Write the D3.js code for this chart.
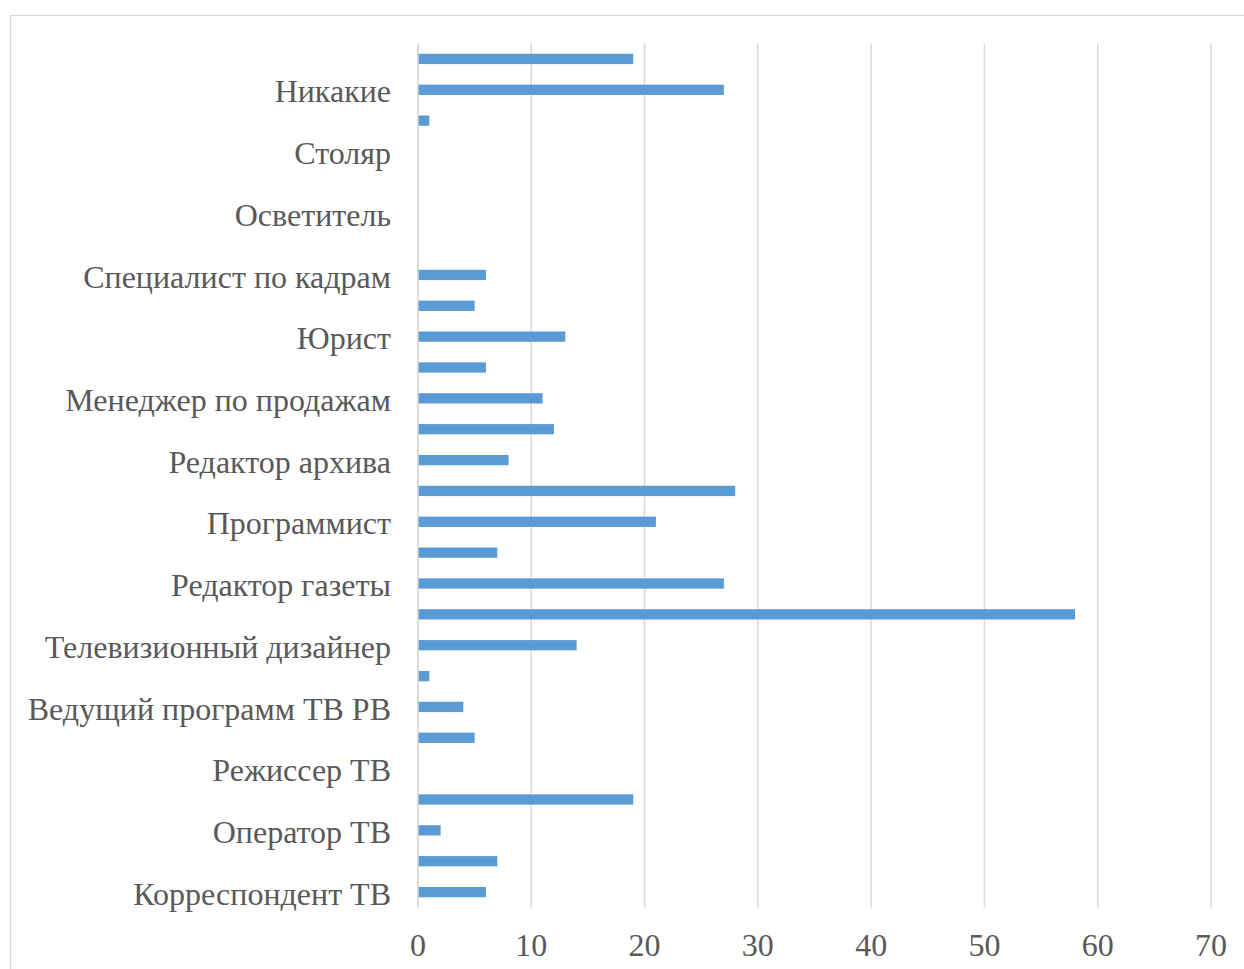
<!DOCTYPE html>
<html><head><meta charset="utf-8">
<script src="https://cdn.jsdelivr.net/npm/d3@7"></script>
<style>body{margin:0;background:#fff;}svg{display:block;}</style>
</head><body>
<script>
// categories from bottom to top; labels visible only every other one (as in the original)
const categories = [
  "Корреспондент ТВ","Редактор ТВ","Оператор ТВ","Звукорежиссер","Режиссер ТВ","Монтажер",
  "Ведущий программ ТВ РВ","Продюсер","Телевизионный дизайнер","Журналист",
  "Редактор газеты","Фотограф","Программист","Дизайнер","Редактор архива","Маркетолог",
  "Менеджер по продажам","Бухгалтер","Юрист","Секретарь","Специалист по кадрам","Водитель",
  "Осветитель","Костюмер","Столяр","Другое","Никакие","Все"
];
const values = [6,7,2,19,0,5,4,1,14,58,27,7,21,28,8,12,11,6,13,5,6,0,0,0,0,1,27,19];
const xTicks = [0,10,20,30,40,50,60,70];

const W=1244,H=969;
const svg=d3.select("body").append("svg").attr("width",W).attr("height",H);
svg.append("rect").attr("x",10.5).attr("y",15.5).attr("width",W+10).attr("height",H+10)
  .attr("fill","#fff").attr("stroke","#d9d9d9").attr("stroke-width",1.3);

const x=d3.scaleLinear().domain([0,70]).range([418,1211]);
const y=d3.scaleBand().domain(categories.map((d,i)=>i)).range([907.5,43.5]).paddingInner(2/3).paddingOuter(1/3);

// gridlines
svg.append("g").selectAll("line").data(xTicks).join("line")
  .attr("x1",d=>x(d)).attr("x2",d=>x(d)).attr("y1",43.5).attr("y2",907.5)
  .attr("stroke","#d9d9d9").attr("stroke-width",1.5);

// bars
svg.append("g").selectAll("rect").data(values).join("rect")
  .attr("x",x(0)).attr("y",(d,i)=>y(i)).attr("height",y.bandwidth())
  .attr("width",d=>x(d)-x(0)).attr("fill","#5b9bd5");

// category axis line
svg.append("line").attr("x1",x(0)).attr("x2",x(0)).attr("y1",43.5).attr("y2",907.5)
  .attr("stroke","#d9d9d9").attr("stroke-width",1.5);

const font="'Liberation Serif','Times New Roman',serif";
// category labels
svg.append("g").selectAll("text").data(categories.map((c,i)=>({c,i})).filter(d=>d.i%2===0)).join("text")
  .attr("x",391).attr("y",d=>y(d.i)+y.bandwidth()/2+1.5).attr("dy","0.35em")
  .attr("text-anchor","end").attr("font-family",font).attr("font-size",32)
  .attr("fill","#595959").text(d=>d.c);

// x tick labels
svg.append("g").selectAll("text").data(xTicks).join("text")
  .attr("x",d=>x(d)).attr("y",956).attr("text-anchor","middle")
  .attr("font-family",font).attr("font-size",32).attr("fill","#595959").text(d=>d);
</script>
</body></html>
